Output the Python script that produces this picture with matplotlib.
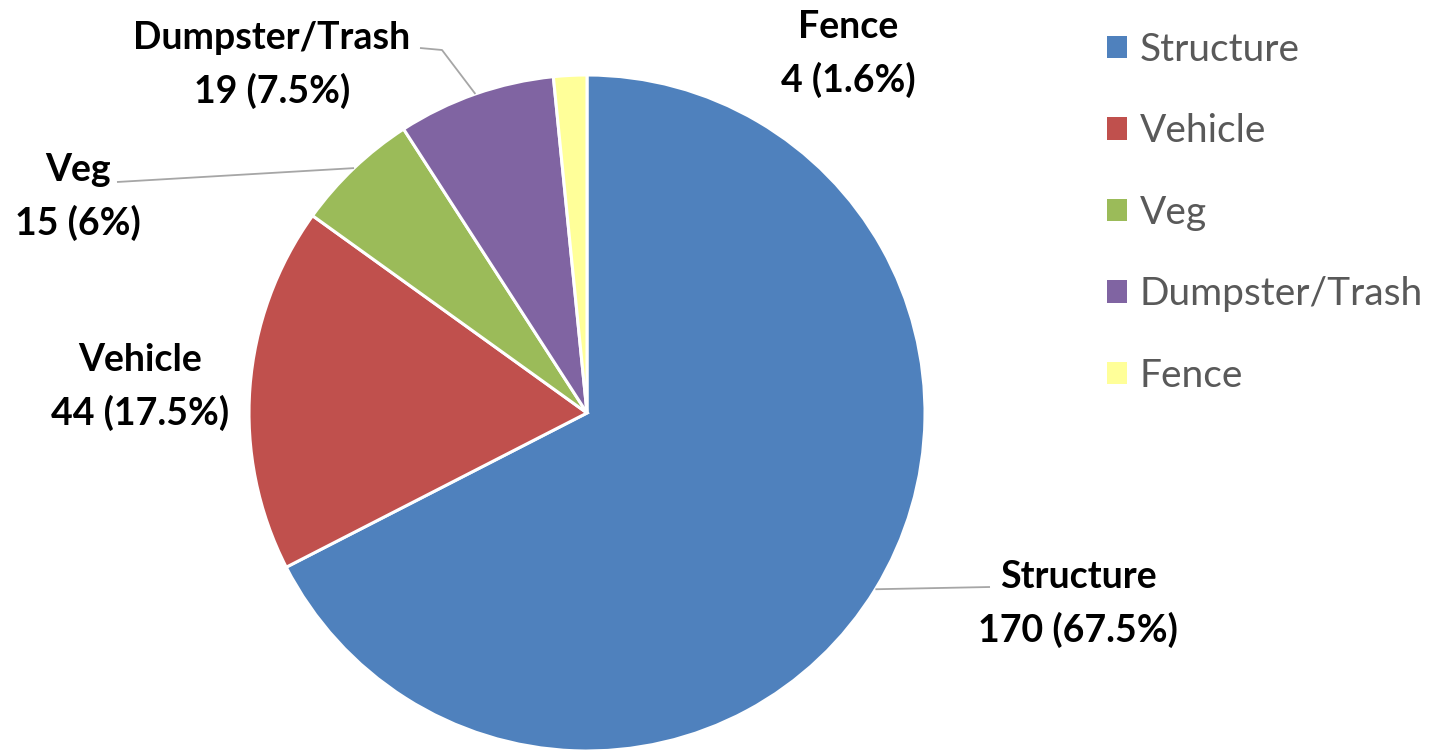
import numpy as np
import matplotlib
matplotlib.use("Agg")
import matplotlib.pyplot as plt
from matplotlib.patches import Patch

categories = ["Structure", "Vehicle", "Veg", "Dumpster/Trash", "Fence"]
counts = [170, 44, 15, 19, 4]
percent_labels = ["67.5%", "17.5%", "6%", "7.5%", "1.6%"]
colors = ["#4F81BD", "#C0504D", "#9BBB59", "#8064A2", "#FFFF99"]

W, H = 1441, 756
fig = plt.figure(figsize=(W / 100, H / 100), dpi=100)
ax = fig.add_axes([0, 0, 1, 1])
ax.set_xlim(0, W)
ax.set_ylim(0, H)
ax.set_aspect("equal")
ax.axis("off")

cx, cy, R = 587, H - 413, 338
wedges, _ = ax.pie(counts, colors=colors, startangle=90, counterclock=False,
                   center=(cx, cy), radius=R, frame=True,
                   wedgeprops=dict(edgecolor="white", linewidth=2.2))
ax.set_xlim(0, W)
ax.set_ylim(0, H)
ax.axis("off")

font = "Lato"
# label positions (pixel layout, y from top) and whether a leader line is drawn
label_pos = {
    "Structure": (1078, 604, True, (990, 587)),
    "Vehicle": (140, 387, False, None),
    "Veg": (78, 197, True, (117, 182)),
    "Dumpster/Trash": (272, 65, True, (420, 48)),
    "Fence": (848, 54, False, None),
}
for w, cat, n, p in zip(wedges, categories, counts, percent_labels):
    lx, ly, leader, end = label_pos[cat]
    ax.text(lx, H - ly, f"{cat}\n{n} ({p})", ha="center", va="center",
            fontsize=27, fontweight="bold", family=font, color="black",
            linespacing=1.58)
    if leader:
        mid = np.deg2rad((w.theta1 + w.theta2) / 2)
        sx, sy = cx + R * np.cos(mid), cy + R * np.sin(mid)
        ex, ey = end
        if cat == "Dumpster/Trash":
            xs = [sx, 442, ex]
            ys = [sy, H - 50, H - ey]
        else:
            xs = [sx, ex]
            ys = [sy, H - ey]
        ax.plot(xs, ys, color="#A6A6A6", lw=1.3, solid_capstyle="butt")

handles = [Patch(facecolor=c, edgecolor="none") for c in colors]
leg = fig.legend(handles, categories, loc="upper left",
                 bbox_to_anchor=(1107 / W, 1 - 32 / H), frameon=False,
                 prop=dict(family=font, size=28), labelcolor="#595959",
                 handlelength=0.51, handleheight=0.51, handletextpad=0.33,
                 labelspacing=1.17, borderaxespad=0, borderpad=0)

fig.savefig("out.png", dpi=100)
